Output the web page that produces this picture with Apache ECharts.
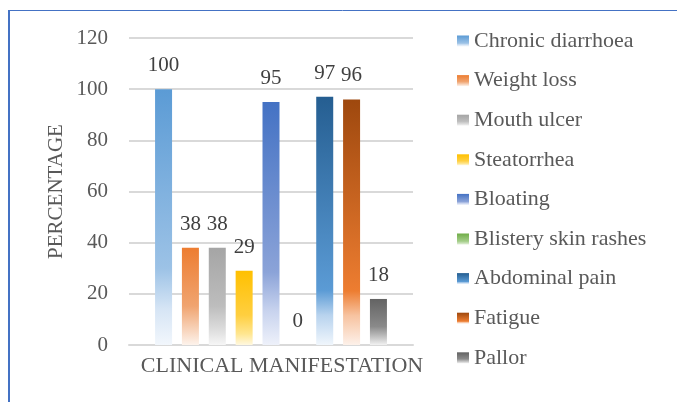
<!DOCTYPE html>
<html>
<head>
<meta charset="utf-8">
<script src="https://cdn.jsdelivr.net/npm/echarts@6/dist/echarts.min.js"></script>
<style>
  html, body { margin: 0; padding: 0; background: #fff; }
  #chart { width: 677px; height: 402px; }
</style>
</head>
<body>
<div id="chart"></div>
<script>
// data
const categories = ['CLINICAL MANIFESTATION']
const seriesNames = ['Chronic diarrhoea', 'Weight loss', 'Mouth ulcer', 'Steatorrhea', 'Bloating',
  'Blistery skin rashes', 'Abdominal pain', 'Fatigue', 'Pallor']
const values = [100, 38, 38, 29, 95, 0, 97, 96, 18]
const yTicks = [0, 20, 40, 60, 80, 100, 120]

// gradient stops per series (top -> bottom), office-like fills
const fills = [
  [['#5b9bd5', 0], ['#9cc2e6', 0.7], ['#d6e5f5', 0.86], ['#f2f7fc', 1]],
  [['#ed7d31', 0], ['#f0a470', 0.6], ['#f8d5bd', 0.85], ['#fdf3ec', 1]],
  [['#a5a5a5', 0], ['#bdbdbd', 0.6], ['#dedede', 0.85], ['#f6f6f6', 1]],
  [['#ffc000', 0], ['#ffcf40', 0.6], ['#ffe690', 0.85], ['#fff8e0', 1]],
  [['#4472c4', 0], ['#8ba3d8', 0.7], ['#c8d3ee', 0.86], ['#eef1fa', 1]],
  [['#70ad47', 0], ['#a3cd88', 0.7], ['#e3f0da', 1]],
  [['#255e91', 0], ['#5b9bd5', 0.78], ['#b8d3ee', 0.88], ['#f0f6fc', 1]],
  [['#9e480e', 0], ['#ed7d31', 0.78], ['#f7c3a0', 0.88], ['#fdf1ea', 1]],
  [['#636363', 0], ['#8a8a8a', 0.6], ['#c8c8c8', 0.85], ['#f2f2f2', 1]]
]

const font = 'Liberation Serif'

function grad (stops) {
  return new echarts.graphic.LinearGradient(0, 0, 0, 1,
    stops.map(s => ({ offset: s[1], color: s[0] })))
}

const chart = echarts.init(document.getElementById('chart'))

chart.setOption({
  animation: false,
  textStyle: { fontFamily: font },
  grid: {
    left: 129,
    right: 264,
    top: 38,
    bottom: 57
  },
  legend: {
    orient: 'vertical',
    left: 452,
    top: 25,
    icon: 'rect',
    itemWidth: 12,
    itemHeight: 11,
    itemGap: 17.6,
    textStyle: {
      fontFamily: font,
      fontSize: 22,
      lineHeight: 22,
      color: '#595959'
    },
    data: seriesNames
  },
  xAxis: {
    type: 'category',
    data: categories,
    axisTick: { show: false },
    axisLine: { lineStyle: { color: '#d9d9d9', width: 2 } },
    axisLabel: {
      fontFamily: font,
      fontSize: 22,
      color: '#595959',
      margin: 10,
      padding: [0, 0, 0, 22]
    }
  },
  yAxis: {
    type: 'value',
    min: yTicks[0],
    max: yTicks[yTicks.length - 1],
    interval: 20,
    name: 'PERCENTAGE',
    nameLocation: 'middle',
    nameGap: 62,
    nameTextStyle: {
      fontFamily: font,
      fontSize: 21,
      color: '#595959'
    },
    axisLine: { show: false },
    axisTick: { show: false },
    axisLabel: {
      fontFamily: font,
      fontSize: 21,
      color: '#595959',
      margin: 21
    },
    splitLine: { lineStyle: { color: '#d9d9d9', width: 2 } }
  },
  series: seriesNames.map((name, i) => ({
    name: name,
    type: 'bar',
    barWidth: 17,
    barGap: '58%',
    data: [values[i]],
    itemStyle: { color: grad(fills[i]) },
    label: {
      show: true,
      position: 'top',
      distance: 13,
      fontFamily: font,
      fontSize: 21,
      color: '#404040'
    }
  })),
  graphic: [
    {
      type: 'line',
      shape: { x1: 9, y1: 10, x2: 9, y2: 402 },
      style: { stroke: '#4472c4', lineWidth: 2 }
    },
    {
      type: 'line',
      shape: { x1: 8, y1: 10.5, x2: 677, y2: 10.5 },
      style: { stroke: '#4472c4', lineWidth: 1 }
    }
  ]
})
</script>
</body>
</html>
